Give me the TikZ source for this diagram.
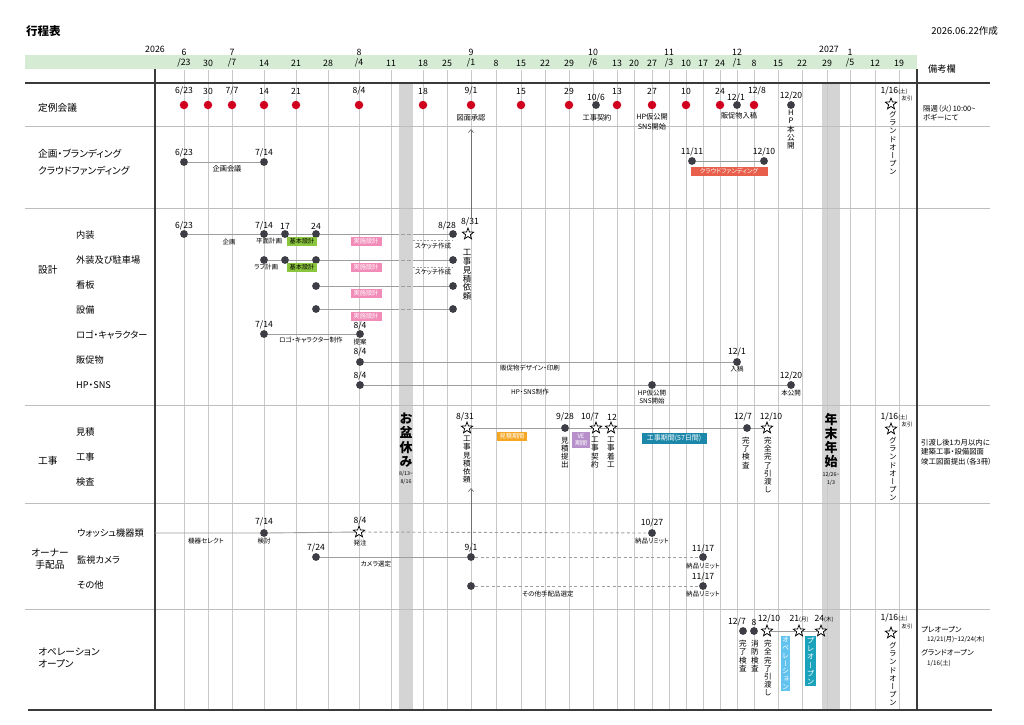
\documentclass[tikz,border=0pt]{standalone}
\usepackage{fontspec}
\setmainfont{Noto Sans CJK JP}[RawFeature=+palt]
\newfontfamily\tatefont{Noto Sans CJK JP}[RawFeature=+vert]
\usetikzlibrary{shapes.geometric,arrows.meta}

\definecolor{bandgreen}{HTML}{D5EBD4}
\definecolor{gridgray}{HTML}{C9C9C9}
\definecolor{sepgray}{HTML}{BDBDBD}
\definecolor{framegray}{HTML}{3A3A3A}
\definecolor{holiday}{HTML}{D4D4D4}
\definecolor{dotgray}{HTML}{3D3D45}
\definecolor{meetred}{HTML}{D2001F}
\definecolor{bargray}{HTML}{9E9E9E}
\definecolor{arrowgray}{HTML}{707070}
\definecolor{cfred}{HTML}{E8604B}
\definecolor{kihongreen}{HTML}{8CC63E}
\definecolor{jisshipink}{HTML}{F18CB8}
\definecolor{mitsuorange}{HTML}{F5A623}
\definecolor{vepurple}{HTML}{B68FCB}
\definecolor{kojiteal}{HTML}{1B87A9}
\definecolor{opeblue}{HTML}{62C4EE}
\definecolor{preteal}{HTML}{1CA3BC}

% vertical (tategaki) stack of characters
\makeatletter
\newcommand\tate[1]{\vbox{\@tfor\tatechar:=#1\do{\hbox to 1em{\hss\tatechar\hss}}}}
\makeatother
\newcommand\sm[1]{{\fontsize{5.5}{6}\selectfont #1}}

\tikzset{
  gridline/.style={draw=gridgray, line width=0.6pt},
  sepline/.style={draw=sepgray, line width=0.6pt},
  frameline/.style={draw=framegray, line width=1.5pt},
  evdot/.style={circle, fill=dotgray, inner sep=0pt, minimum size=7.8pt},
  meetdot/.style={circle, fill=meetred, inner sep=0pt, minimum size=8.5pt},
  milestone/.style={star, star points=5, star point ratio=2.4, draw=black, fill=white, line width=0.75pt, inner sep=0pt, minimum size=12pt},
  ganttbar/.style={draw=bargray, line width=0.9pt},
  pendbar/.style={ganttbar, dash pattern=on 3pt off 2.5pt},
  hdr/.style={font=\fontsize{8.8}{9}\selectfont, inner sep=0pt},
  dateno/.style={font=\fontsize{8.6}{9}\selectfont, inner sep=0pt},
  memo/.style={font=\fontsize{7.2}{9.5}\selectfont, inner sep=0pt, align=center},
  smallmemo/.style={font=\fontsize{6.5}{8}\selectfont, inner sep=0pt, align=center},
  rowhead/.style={font=\fontsize{9.7}{12}\selectfont, anchor=west, inner sep=0pt},
  rowitem/.style={font=\fontsize{9.2}{11}\selectfont, anchor=west, inner sep=0pt},
  tatetext/.style={font=\fontsize{7.6}{8.2}\selectfont\tatefont, inner sep=0pt, anchor=north},
  tagbox/.style={font=\fontsize{6.2}{7}\selectfont, text=white, inner sep=0pt, minimum height=9pt},
  remark/.style={font=\fontsize{7.4}{9}\selectfont, anchor=west, inner sep=0pt},
  holidaytext/.style={font=\fontsize{13}{14.2}\selectfont\tatefont\bfseries, inner sep=0pt, anchor=north},
  tinynote/.style={font=\fontsize{5.3}{8}\selectfont, inner sep=0pt, align=center},
  uparrow/.style={draw=arrowgray, line width=0.7pt, -{Straight Barb[length=3pt,width=5pt]}},
  sketchline/.style={draw=bargray, line width=0.6pt, dash pattern=on 2pt off 1.5pt},
  obongap/.style={draw=holiday, line width=2pt, dash pattern=on 2pt off 4pt},
}

\begin{document}
\begin{tikzpicture}[x=1pt, y=-1pt]
  \useasboundingbox (0,0) rectangle (1024,724);
  \fill[white] (0,0) rectangle (1024,724);

  % Header band and holidays
  \fill[bandgreen] (25,55) rectangle (917,69);
  \fill[holiday] (399,83) rectangle (413,710);
  \fill[holiday] (822,83) rectangle (840,710);

  % Week grid
  \foreach \x in {184,208,232,264,296,328,359,391,423,447,471,496,521,545,569,593,617,634,652,669,686,703,720,737,754,778,802,827,850,875,899}
    \draw[gridline] (\x,70) -- (\x,710);

  % Row separators and frame
  \foreach \y in {126,208,405,503,609}
    \draw[sepline] (25,\y) -- (990,\y);
  \draw[frameline] (25,83) -- (990,83);
  \draw[frameline] (28,710) -- (992,710);
  \draw[frameline] (155,69) -- (155,710);
  \draw[frameline] (917,69) -- (917,710);

  % Title
  \node[anchor=west, inner sep=0pt, font=\fontsize{11.5}{12}\selectfont\bfseries] (title) at (26,31) {行程表};
  \node[anchor=east, inner sep=0pt, font=\fontsize{9.5}{10}\selectfont] (made) at (998,31) {2026.06.22作成};
  \node[anchor=west, inner sep=0pt, font=\fontsize{9.2}{10}\selectfont] (bikou) at (928,69) {備考欄};

  % Calendar header
  \node[hdr] (y2026) at (155,49) {2026};
  \node[hdr] (y2027) at (829,49) {2027};
  \foreach \x/\m in {184/6,232/7,359/8,471/9,593/10,669/11,737/12,850/1}
    \node[hdr] (mon\m) at (\x,52) {\m};
  \foreach \x/\d in {208/30,264/14,296/21,328/28,391/11,423/18,447/25,496/8,521/15,545/22,569/29,617/13,634/20,652/27,686/10,703/17,720/24,754/8,778/15,802/22,827/29,875/12,899/19}
    \node[hdr] (wk\x) at (\x,63) {\d};
  \foreach \x/\d in {184/23,232/7,359/4,471/1,593/6,669/3,737/1,850/5}
    \node[hdr] (wk\x) at (\x,63) {/\d};

  % Row titles
  \node[rowhead] (teirei) at (38,108) {定例会議};
  \node[rowhead] (kikaku) at (38,154) {企画・ブランディング};
  \node[rowhead] (crowd) at (38,171) {クラウドファンディング};
  \node[rowhead] (sekkei) at (38,270) {設計};
  \node[rowitem] (naiso) at (76,235) {内装};
  \node[rowitem] (gaiso) at (76,260) {外装及び駐車場};
  \node[rowitem] (kanban) at (76,285) {看板};
  \node[rowitem] (setsubi) at (76,310) {設備};
  \node[rowitem] (logo) at (76,335) {ロゴ・キャラクター};
  \node[rowitem] (hansoku) at (76,360) {販促物};
  \node[rowitem] (hpsns) at (76,385) {HP・SNS};
  \node[rowhead] (koji) at (38,461) {工事};
  \node[rowitem] (mitsumori) at (76,432) {見積};
  \node[rowitem] (kojisub) at (76,457) {工事};
  \node[rowitem] (kensa) at (76,482) {検査};
  \node[rowhead, anchor=center, align=center, font=\fontsize{9.7}{11.5}\selectfont] (owner) at (50,559) {オーナー\\手配品};
  \node[rowitem] (wash) at (77,533) {ウォッシュ機器類};
  \node[rowitem] (camera) at (77,560) {監視カメラ};
  \node[rowitem] (sonota) at (77,585) {その他};
  \node[rowhead, align=left, font=\fontsize{9.7}{12}\selectfont] (opening) at (38,658) {オペレーション\\オープン};

  % Teirei kaigi
  \foreach \x in {184,208,232,264,296,359,423,471,521,569,617,652,686,720,754}
    \node[meetdot] (mt\x) at (\x,105) {};
  \foreach \x/\d in {208/30,264/14,296/21,423/18,521/15,569/29,617/13,652/27,686/10,720/24}
    \node[dateno] (mtd\x) at (\x,91) {\d};
  \node[dateno] (mtd184) at (184,91) {6/23};
  \node[dateno] (mtd232) at (232,91) {7/7};
  \node[dateno] (mtd359) at (359,91) {8/4};
  \node[dateno] (mtd471) at (471,91) {9/1};
  \node[dateno] (mtd754) at (757,91) {12/8};
  \node[evdot] (contract) at (596,105) {};
  \node[dateno] (contractd) at (596,98) {10/6};
  \node[evdot] (hanin) at (737,105) {};
  \node[dateno] (hanind) at (736,98) {12/1};
  \node[evdot] (hpopen) at (791,105) {};
  \node[dateno] (hpopend) at (791,96) {12/20};
  \node[memo] (zumen) at (471,118) {図面承認};
  \node[memo] (contractm) at (597,118) {工事契約};
  \node[memo] (hpkari) at (652,122) {HP仮公開\\SNS開始};
  \node[memo] (haninm) at (739,116) {販促物入稿};
  \node[tatetext] (hpopenm) at (791,110) {\tate{HP本公開}};
  \node[dateno] (gopen1d) at (894,91) {1/16\sm{(土)}};
  \node[tinynote] (tomo1) at (907,98) {友引};
  \node[milestone] (gopen1) at (891,104) {};
  \node[tatetext] (gopen1m) at (893,111) {\tate{グランドオープン}};
  \node[remark] (rem1) at (923,109) {隔週（火）10:00\textasciitilde};
  \node[remark] (rem2) at (923,118) {ボギーにて};

  % Kikaku / crowdfunding
  \node[evdot] (kk1) at (184,162) {};
  \node[evdot] (kk2) at (264,162) {};
  \node[dateno] (kk1d) at (184,153) {6/23};
  \node[dateno] (kk2d) at (264,153) {7/14};
  \draw[ganttbar] (kk1) -- (kk2);
  \node[memo] (kkm) at (227,169) {企画会議};
  \node[evdot] (cf1) at (692,161) {};
  \node[evdot] (cf2) at (764,161) {};
  \node[dateno] (cf1d) at (692,152) {11/11};
  \node[dateno] (cf2d) at (764,152) {12/10};
  \draw[ganttbar] (cf1) -- (cf2);
  \node[tagbox, fill=cfred, minimum width=77pt] (cftag) at (729,171) {クラウドファンディング};

  % Sekkei: naiso
  \node[evdot] (ns1) at (184,234) {};
  \node[evdot] (ns2) at (264,234) {};
  \node[evdot] (ns3) at (285,234) {};
  \node[evdot] (ns4) at (316,234) {};
  \node[evdot] (ns5) at (453,234) {};
  \node[milestone] (req) at (468,234) {};
  \node[dateno] (ns1d) at (184,226) {6/23};
  \node[dateno] (ns2d) at (264,226) {7/14};
  \node[dateno] (ns3d) at (285,226) {17};
  \node[dateno] (ns4d) at (316,226) {24};
  \node[dateno] (ns5d) at (447,226) {8/28};
  \node[dateno] (reqd) at (470,222) {8/31};
  \draw[ganttbar] (ns1) -- (ns2) -- (ns3) -- (ns4) -- (ns5);
  \node[smallmemo] (nsm1) at (229,242) {企画};
  \node[smallmemo] (nsm2) at (269,241) {平面計画};
  \node[tagbox, fill=kihongreen, text=black, minimum width=30pt] (nskihon) at (302,241) {基本設計};
  \node[tagbox, fill=jisshipink, minimum width=31pt] (nsjisshi) at (366,241) {実施設計};
  \node[smallmemo, minimum width=39pt] (sk1) at (433,246) {スケッチ作成};
  \draw[sketchline] ([yshift=2pt]sk1.north west) -- ([yshift=2pt]sk1.north east);
  \node[tatetext, font=\fontsize{8.5}{8.9}\selectfont\tatefont] (reqm) at (467,249) {\tate{工事見積依頼}};

  % Sekkei: gaiso
  \node[evdot] (gs1) at (264,260) {};
  \node[evdot] (gs2) at (285,260) {};
  \node[evdot] (gs3) at (316,260) {};
  \node[evdot] (gs4) at (453,260) {};
  \draw[ganttbar] (gs1) -- (gs2) -- (gs3) -- (gs4);
  \node[smallmemo] (gsm1) at (266,267) {ラフ計画};
  \node[tagbox, fill=kihongreen, text=black, minimum width=30pt] (gskihon) at (302,267) {基本設計};
  \node[tagbox, fill=jisshipink, minimum width=31pt] (gsjisshi) at (366,267) {実施設計};
  \node[smallmemo, minimum width=39pt] (sk2) at (433,272) {スケッチ作成};
  \draw[sketchline] ([yshift=2pt]sk2.north west) -- ([yshift=2pt]sk2.north east);

  % Sekkei: kanban, setsubi
  \node[evdot] (kb1) at (316,286) {};
  \node[evdot] (kb2) at (453,286) {};
  \draw[ganttbar] (kb1) -- (kb2);
  \node[tagbox, fill=jisshipink, minimum width=31pt] (kbjisshi) at (366,293) {実施設計};
  \node[evdot] (sb1) at (316,309) {};
  \node[evdot] (sb2) at (453,309) {};
  \draw[ganttbar] (sb1) -- (sb2);
  \node[tagbox, fill=jisshipink, minimum width=31pt] (sbjisshi) at (366,316) {実施設計};
  \foreach \y in {234,260,286,309}
    \draw[obongap] (399,\y) -- (414,\y);

  % Sekkei: logo, hansoku, HP
  \node[evdot] (lg1) at (264,334) {};
  \node[evdot] (lg2) at (360,334) {};
  \node[dateno] (lg1d) at (264,325) {7/14};
  \node[dateno] (lg2d) at (360,326) {8/4};
  \draw[ganttbar] (lg1) -- (lg2);
  \node[smallmemo] (lgm1) at (311,340) {ロゴ・キャラクター制作};
  \node[smallmemo] (lgm2) at (360,342) {提案};
  \node[evdot] (hs1) at (360,362) {};
  \node[evdot] (hs2) at (737,362) {};
  \node[dateno] (hs1d) at (360,352) {8/4};
  \node[dateno] (hs2d) at (737,352) {12/1};
  \draw[ganttbar] (hs1) -- (hs2);
  \node[smallmemo] (hsm1) at (530,368) {販促物デザイン・印刷};
  \node[smallmemo] (hsm2) at (737,369) {入稿};
  \node[evdot] (hp1) at (360,385) {};
  \node[evdot] (hp2) at (652,385) {};
  \node[evdot] (hp3) at (791,385) {};
  \node[dateno] (hp1d) at (360,376) {8/4};
  \node[dateno] (hp3d) at (791,376) {12/20};
  \draw[ganttbar] (hp1) -- (hp2) -- (hp3);
  \node[smallmemo] (hpm1) at (530,392) {HP・SNS制作};
  \node[smallmemo] (hpm2) at (652,397) {HP仮公開\\SNS開始};
  \node[smallmemo] (hpm3) at (791,393) {本公開};

  \coordinate (approvein) at (471,129);
  \draw[uparrow] (approvein |- reqd.north) -- (approvein);

  % Koji
  \node[milestone] (est) at (467,428) {};
  \node[evdot] (e928) at (565,428) {};
  \node[milestone] (e107) at (596,428) {};
  \node[milestone] (e1012) at (611,428) {};
  \node[evdot] (e127) at (747,428) {};
  \node[milestone] (e1210) at (767,428) {};
  \node[dateno] (estd) at (465,417) {8/31};
  \node[dateno] (e928d) at (565,417) {9/28};
  \node[dateno] (e107d) at (590,417) {10/7};
  \node[dateno] (e1012d) at (612,417) {12};
  \node[dateno] (e127d) at (743,417) {12/7};
  \node[dateno] (e1210d) at (771,417) {12/10};
  \draw[ganttbar] (est) -- (e928) -- (e107) -- (e1012) -- (e127) -- (e1210);
  \node[tagbox, fill=mitsuorange, minimum width=30pt] (mtag) at (512,436) {見積期間};
  \node[tagbox, fill=vepurple, minimum width=18pt, minimum height=16pt, align=center, font=\fontsize{6}{7}\selectfont] (vetag) at (581,440) {VE\\期間};
  \node[tagbox, fill=kojiteal, minimum width=65pt, minimum height=11pt, font=\fontsize{7}{8}\selectfont] (ktag) at (674,438) {工事期間(57日間)};
  \node[tatetext] (estm) at (467,436) {\tate{工事見積依頼}};
  \node[tatetext] (e928m) at (565,437) {\tate{見積提出}};
  \node[tatetext] (e107m) at (595,437) {\tate{工事契約}};
  \node[tatetext] (e1012m) at (611,437) {\tate{工事着工}};
  \node[tatetext] (e127m) at (746,437) {\tate{完了検査}};
  \node[tatetext] (e1210m) at (768,437) {\tate{完全完了引渡し}};
  \node[dateno] (gopen2d) at (894,417) {1/16\sm{(土)}};
  \node[tinynote] (tomo2) at (907,424) {友引};
  \node[milestone] (gopen2) at (891,429) {};
  \node[tatetext] (gopen2m) at (893,437) {\tate{グランドオープン}};
  \node[holidaytext] (obon) at (406,413) {\tate{お盆休み}};
  \node[tinynote] (obond) at (406,478) {8/13\textasciitilde\\8/16};
  \node[holidaytext] (nenmatsu) at (831,413) {\tate{年末年始}};
  \node[tinynote] (nenmatsud) at (831,479) {12/26\textasciitilde\\1/3};
  \node[remark] (rem3) at (921,443) {引渡し後1カ月以内に};
  \node[remark] (rem4) at (921,452) {建築工事・設備図面};
  \node[remark] (rem5) at (921,462) {竣工図面提出（各3冊）};

  % Owner items
  \coordinate (washL) at (155,533);
  \node[evdot] (w1) at (264,533) {};
  \node[milestone] (w2) at (359,532) {};
  \node[evdot] (w3) at (652,533) {};
  \node[dateno] (w1d) at (264,522) {7/14};
  \node[dateno] (w2d) at (360,521) {8/4};
  \node[dateno] (w3d) at (652,523) {10/27};
  \draw[ganttbar] (washL) -- (w1) -- (w2);
  \draw[pendbar] (w2) -- (w3);
  \node[smallmemo] (wm1) at (206,541) {機器セレクト};
  \node[smallmemo] (wm2) at (264,541) {検討};
  \node[smallmemo] (wm3) at (360,543) {発注};
  \node[smallmemo] (wm4) at (652,541) {納品リミット};
  \node[evdot] (c1) at (316,557) {};
  \node[evdot] (c2) at (471,557) {};
  \node[evdot] (c3) at (703,557) {};
  \node[dateno] (c1d) at (316,548) {7/24};
  \node[dateno] (c2d) at (471,548) {9/1};
  \node[dateno] (c3d) at (703,549) {11/17};
  \draw[ganttbar] (c1) -- (c2);
  \draw[pendbar] (c2) -- (c3);
  \node[smallmemo] (cm1) at (376,564) {カメラ選定};
  \node[smallmemo] (cm2) at (703,566) {納品リミット};
  \node[evdot] (o1) at (471,586) {};
  \node[evdot] (o2) at (703,586) {};
  \node[dateno] (o2d) at (703,577) {11/17};
  \draw[pendbar] (o1) -- (o2);
  \node[smallmemo] (om1) at (548,594) {その他手配品選定};
  \node[smallmemo] (om2) at (703,594) {納品リミット};
  \coordinate (estin) at (471,488);
  \draw[uparrow] (c2) -- (estin);

  % Operation / opening
  \node[evdot] (op1) at (743,631) {};
  \node[evdot] (op2) at (754,631) {};
  \node[milestone] (op3) at (767,631) {};
  \node[milestone] (op4) at (799,631) {};
  \node[milestone] (op5) at (821,631) {};
  \node[dateno] (op1d) at (737,622) {12/7};
  \node[dateno] (op2d) at (754,622) {8};
  \node[dateno] (op3d) at (769,619) {12/10};
  \node[dateno] (op4d) at (799,619) {21\sm{(月)}};
  \node[dateno] (op5d) at (824,619) {24\sm{(木)}};
  \draw[ganttbar] (op3) -- (op4) -- (op5);
  \node[tatetext] (op1m) at (743,640) {\tate{完了検査}};
  \node[tatetext] (op2m) at (755,640) {\tate{消防検査}};
  \node[tatetext] (op3m) at (768,640) {\tate{完全完了引渡し}};
  \node[tagbox, fill=opeblue, minimum width=9pt, minimum height=55pt, font=\fontsize{7}{7.8}\selectfont\tatefont] (opetag) at (785.5,663.5) {\tate{オペレーション}};
  \node[tagbox, fill=preteal, minimum width=11pt, minimum height=50pt, font=\fontsize{7.5}{8.2}\selectfont\tatefont] (pretag) at (810.5,661) {\tate{プレオープン}};
  \node[dateno] (gopen3d) at (894,618) {1/16\sm{(土)}};
  \node[tinynote] (tomo3) at (907,626) {友引};
  \node[milestone] (gopen3) at (891,633) {};
  \node[tatetext] (gopen3m) at (893,642) {\tate{グランドオープン}};
  \node[remark] (rem6) at (921,630) {プレオープン};
  \node[remark, font=\fontsize{6.3}{8}\selectfont] (rem7) at (927,639) {12/21(月)\textasciitilde12/24(木)};
  \node[remark] (rem8) at (921,653) {グランドオープン};
  \node[remark, font=\fontsize{6.3}{8}\selectfont] (rem9) at (927,663) {1/16(土)};
\end{tikzpicture}
\end{document}
